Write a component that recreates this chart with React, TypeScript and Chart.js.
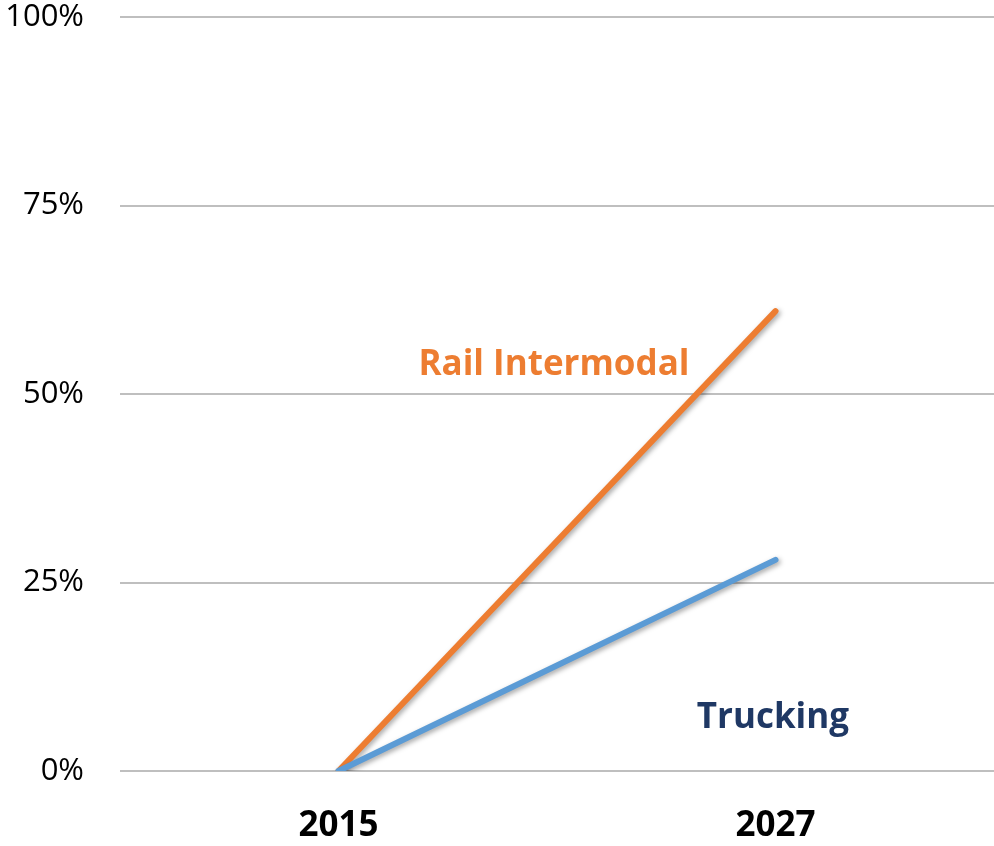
import React, { useEffect, useRef } from "react";
import { Chart, registerables } from "chart.js";

Chart.register(...registerables);

const categories = ["2015", "2027"];
const truckingValues = [0, 28];
const railValues = [0, 61];
const yTickValues = [0, 25, 50, 75, 100];
const seriesNames = ["Trucking", "Rail Intermodal"];

const ORANGE = "#ED7D31";
const BLUE = "#5B9BD5";
const NAVY = "#1F3864";
const GRID = "#BFBFBF";
const FONT = "'Open Sans', 'Noto Sans', sans-serif";

const shadowPlugin = {
  id: "lineShadow",
  beforeDatasetDraw(chart: any) {
    const ctx = chart.ctx;
    ctx.save();
    ctx.shadowColor = "rgba(0,0,0,0.35)";
    ctx.shadowBlur = 5;
    ctx.shadowOffsetX = 2;
    ctx.shadowOffsetY = 2;
  },
  afterDatasetDraw(chart: any) {
    chart.ctx.restore();
  },
};

const labelPlugin = {
  id: "seriesLabels",
  afterDatasetsDraw(chart: any) {
    const { ctx, scales } = chart;
    const x = scales.x;
    const y = scales.y;
    const items = [
      { text: seriesNames[1], xv: 0.493, yv: 53.8, color: ORANGE },
      { text: seriesNames[0], xv: 0.994, yv: 7.0, color: NAVY },
    ];
    ctx.save();
    ctx.font = `bold 35px ${FONT}`;
    ctx.textAlign = "center";
    ctx.textBaseline = "middle";
    for (const it of items) {
      ctx.fillStyle = it.color;
      ctx.fillText(it.text, x.getPixelForValue(it.xv), y.getPixelForValue(it.yv));
    }
    ctx.restore();
  },
};

export default function App() {
  const ref = useRef<HTMLCanvasElement | null>(null);

  useEffect(() => {
    document.body.style.margin = "0";
    if (!ref.current) return;
    const chart = new Chart(ref.current, {
      type: "line",
      data: {
        labels: categories,
        datasets: [
          {
            label: seriesNames[0],
            data: truckingValues,
            borderColor: BLUE,
            backgroundColor: BLUE,
            borderWidth: 6,
            borderCapStyle: "round",
            pointRadius: 0,
            tension: 0,
          },
          {
            label: seriesNames[1],
            data: railValues,
            borderColor: ORANGE,
            backgroundColor: ORANGE,
            borderWidth: 6,
            borderCapStyle: "round",
            pointRadius: 0,
            tension: 0,
          },
        ],
      },
      options: {
        animation: false,
        responsive: true,
        maintainAspectRatio: false,
        layout: { padding: { top: 17, right: 0, left: 0, bottom: 0 } },
        plugins: {
          legend: { display: false },
          tooltip: { enabled: false },
        },
        scales: {
          x: {
            offset: true,
            grid: { display: false, drawTicks: false },
            border: { display: false },
            ticks: {
              color: "#000",
              font: { family: FONT, size: 35, weight: "bold", lineHeight: 1 },
              padding: 38,
              maxRotation: 0,
            },
            afterFit(scale: any) {
              scale.height = 75;
              scale.paddingLeft = 0;
              scale.paddingRight = 0;
            },
          },
          y: {
            min: 0,
            max: 100,
            afterBuildTicks(scale: any) {
              scale.ticks = yTickValues.map((v) => ({ value: v }));
            },
            grid: { color: GRID, lineWidth: 2, drawTicks: false },
            border: { display: false },
            ticks: {
              color: "#000",
              font: { family: FONT, size: 31, lineHeight: 1 },
              padding: 36,
              callback: (v: any) => `${v}%`,
            },
            afterFit(scale: any) {
              scale.width = 120;
              scale.paddingTop = 0;
              scale.paddingBottom = 0;
            },
          },
        },
      },
      plugins: [shadowPlugin, labelPlugin],
    });
    return () => chart.destroy();
  }, []);

  return (
    <div style={{ width: 994, height: 846, position: "relative" }}>
      <canvas ref={ref} />
    </div>
  );
}
